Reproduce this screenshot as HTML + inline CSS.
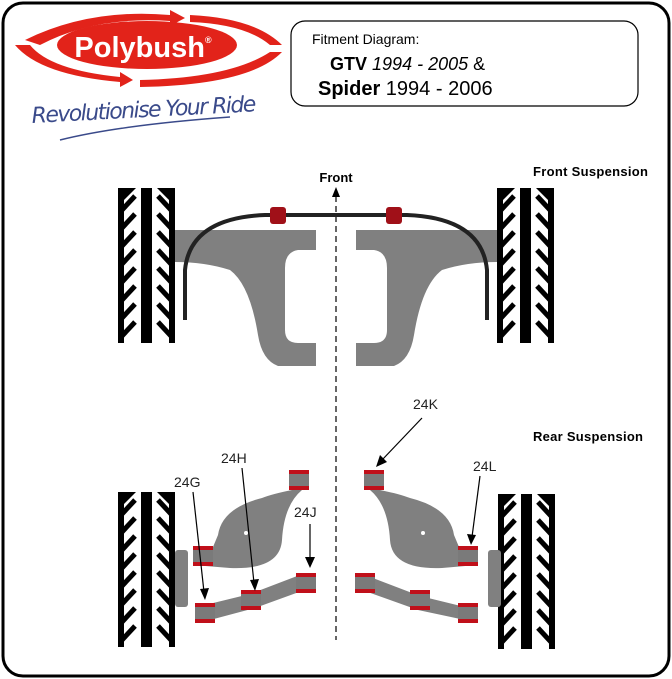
<!DOCTYPE html>
<html><head><meta charset="utf-8"><style>
html,body{margin:0;padding:0;background:#fff;}
svg{display:block;font-family:"Liberation Sans",sans-serif;}
</style></head><body>
<svg width="672" height="679" viewBox="0 0 672 679" xmlns="http://www.w3.org/2000/svg">
<defs>
<g id="tire">
  <rect x="23" y="0" width="11" height="155" fill="#000"/>
  <rect x="0" y="0" width="6" height="155" fill="#000"/>
  <path d="M0 0 L18 0 L6 12 Z" fill="#000"/>
  <g fill="none" stroke="#000" stroke-width="5">
    <path d="M4 22 L17 8 M4 40 L17 26 M4 58 L17 44 M4 76 L17 62 M4 94 L17 80 M4 112 L17 98 M4 130 L17 116 M4 148 L17 134"/>
    <path d="M53 22 L40 8 M53 40 L40 26 M53 58 L40 44 M53 76 L40 62 M53 94 L40 80 M53 112 L40 98 M53 130 L40 116 M53 148 L40 134"/>
  </g>
  <rect x="51" y="0" width="6" height="155" fill="#000"/>
  <path d="M57 0 L39 0 L51 12 Z" fill="#000"/>
</g>
<g id="frontarm">
  <path d="M175 230 L316 230 L316 250 L298 250 Q285 252 285 268 L285 330 Q285 343 298 343 L316 343 L316 366 L278 366 Q262 360 258 335 Q250 285 230 270 Q205 262 175 262 Z" fill="#808080"/>
</g>
<g id="bush">
  <rect x="0" y="0" width="20" height="20" fill="#7a7a7a"/>
  <rect x="0" y="0" width="20" height="4" fill="#c0101a"/>
  <rect x="0" y="16" width="20" height="4" fill="#c0101a"/>
</g>
</defs>

<rect x="3" y="3" width="666" height="673" rx="20" fill="#fff" stroke="#000" stroke-width="3"/>

<!-- Logo -->
<path d="M25 40 Q90 8 170 15 L170 10 L185 18 L170 26 L170 21 Q95 16 40 45 Z" fill="#e2231a"/>
<path d="M190 15 Q255 18 282 45 L270 45 Q245 24 190 22 Z" fill="#e2231a"/>
<path d="M15 45 L30 45 Q50 70 120 77 L120 72 L133 80 L120 87 L120 82 Q40 75 15 45 Z" fill="#e2231a"/>
<path d="M140 80 Q230 78 270 52 L282 52 Q250 85 140 87 Z" fill="#e2231a"/>
<ellipse cx="147" cy="45" rx="90" ry="24" fill="#e2231a"/>
<text x="143" y="57" text-anchor="middle" font-size="29" font-weight="bold" fill="#fff">Polybush<tspan font-size="9" dy="-14">®</tspan></text>
<text x="32" y="123" font-size="22" fill="#3a4a8a" font-style="italic" font-family="'DejaVu Sans',sans-serif" transform="rotate(-3 32 123)" textLength="225">Revolutionise Your Ride</text>
<path d="M60 140 Q120 125 230 117" stroke="#3a4a8a" stroke-width="1.5" fill="none"/>

<!-- Header box -->
<rect x="291" y="21" width="347" height="85" rx="14" fill="#fff" stroke="#000" stroke-width="1.2"/>
<text x="312" y="44" font-size="14">Fitment Diagram:</text>
<text x="330" y="70" font-size="18"><tspan font-weight="bold">GTV</tspan> <tspan font-style="italic">1994 - 2005</tspan>  &amp;</text>
<text x="318" y="95" font-size="20"><tspan font-weight="bold">Spider</tspan> 1994 - 2006</text>

<!-- Labels -->
<text x="336" y="182" text-anchor="middle" font-size="13" font-weight="bold">Front</text>
<text x="533" y="176" font-size="13" font-weight="bold" textLength="115">Front Suspension</text>
<text x="533" y="441" font-size="13" font-weight="bold" textLength="110">Rear Suspension</text>

<!-- center dashed line -->
<line x1="336" y1="196" x2="336" y2="640" stroke="#000" stroke-width="1.2" stroke-dasharray="6,4"/>
<path d="M336 187 L332 197 L340 197 Z" fill="#000"/>

<!-- Front -->
<use href="#tire" x="118" y="188"/>
<use href="#tire" x="497" y="188"/>
<use href="#frontarm"/>
<use href="#frontarm" transform="translate(672,0) scale(-1,1)"/>
<path d="M185 320 L185 270 Q190 218 265 215 L407 215 Q482 218 487 270 L487 320" stroke="#222" stroke-width="4" fill="none"/>
<rect x="270" y="207" width="16" height="17" rx="3" fill="#a01018"/>
<rect x="386" y="207" width="16" height="17" rx="3" fill="#a01018"/>

<!-- Rear left -->
<use href="#tire" x="118" y="492"/>
<rect x="175" y="550" width="13" height="57" rx="3" fill="#808080"/>
<path d="M292 472 L292 490 Q272 494 262 498 Q222 508 218 535 L213 547 L193 547 L193 565 L230 568 Q280 570 282 540 Q284 505 302 490 Z" fill="#808080"/>
<use href="#bush" x="289" y="470"/>
<use href="#bush" x="193" y="546"/>
<path d="M205 605 L250 594 L305 573 L310 588 L255 608 L210 620 Z" fill="#808080"/>
<use href="#bush" x="195" y="603"/>
<use href="#bush" x="241" y="590"/>
<use href="#bush" x="296" y="573"/>

<!-- Rear right -->
<use href="#tire" x="498" y="494"/>
<rect x="488" y="550" width="13" height="57" rx="3" fill="#808080"/>
<path d="M380 472 L380 490 Q400 494 410 498 Q450 508 454 535 L459 547 L477 547 L477 565 L442 568 Q392 570 390 540 Q388 505 370 490 Z" fill="#808080"/>
<use href="#bush" x="364" y="470"/>
<use href="#bush" x="458" y="546"/>
<path d="M365 575 L420 596 L465 607 L465 620 L418 610 L362 590 Z" fill="#808080"/>
<use href="#bush" x="355" y="573"/>
<use href="#bush" x="410" y="590"/>
<use href="#bush" x="458" y="603"/>
<circle cx="246" cy="533" r="2" fill="#fff"/>
<circle cx="423" cy="533" r="2" fill="#fff"/>

<!-- Callouts -->
<g font-size="14" fill="#222">
<text x="174" y="487">24G</text>
<text x="221" y="463">24H</text>
<text x="294" y="517">24J</text>
<text x="413" y="409">24K</text>
<text x="473" y="471">24L</text>
</g>
<g stroke="#000" stroke-width="1.2">
<line x1="193" y1="492" x2="204" y2="592"/>
<line x1="242" y1="468" x2="254" y2="583"/>
<line x1="310" y1="524" x2="310" y2="560"/>
<line x1="422" y1="418" x2="382" y2="460"/>
<line x1="480" y1="476" x2="472" y2="537"/>
</g>
<g fill="#000">
<path d="M205 600 L200 589 L209 588 Z"/>
<path d="M255 591 L250 580 L259 579 Z"/>
<path d="M310 568 L305 557 L315 557 Z"/>
<path d="M376 467 L380 455 L387 462 Z"/>
<path d="M471 545 L467 534 L476 535 Z"/>
</g>
</svg>
</body></html>
